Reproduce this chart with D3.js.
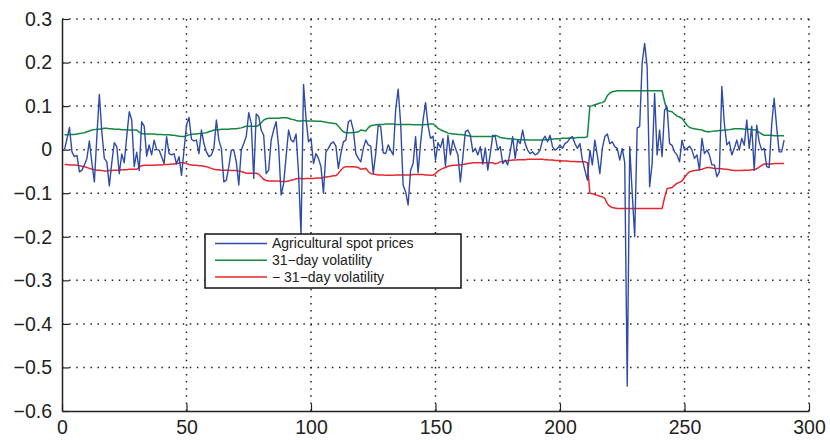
<!DOCTYPE html>
<html>
<head>
<meta charset="utf-8">
<script src="https://cdn.jsdelivr.net/npm/d3@7"></script>
<style>
  body { margin: 0; background: #fff; }
  text { font-family: "Liberation Sans", Arial, Helvetica, sans-serif; fill: #222; }
</style>
</head>
<body>
<div class="chart"></div>
<script>
// Daily returns of agricultural spot prices, x = 1..290
var spotPrices = [
  0.000, 0.025, 0.051, -0.005, -0.016, -0.013, -0.051, -0.047, -0.035, -0.020,
  0.020, -0.030, -0.074, 0.030, 0.127, 0.040, -0.020, -0.028, -0.083, -0.030,
  0.016, 0.007, -0.055, -0.010, -0.030, 0.030, 0.087, 0.068, -0.039, -0.006,
  -0.048, 0.064, 0.054, -0.015, 0.011, -0.012, 0.022, 0.000, -0.001, -0.016,
  -0.032, 0.030, -0.009, -0.012, -0.009, -0.033, -0.016, -0.059, -0.001, 0.056,
  0.074, 0.024, 0.020, 0.022, -0.009, 0.045, 0.014, -0.005, -0.016, -0.012,
  0.003, 0.068, 0.022, 0.003, -0.074, -0.070, -0.039, -0.001, -0.001, -0.028,
  -0.081, -0.001, 0.014, 0.030, 0.085, 0.060, -0.066, 0.082, 0.076, 0.045,
  0.033, -0.055, -0.047, 0.022, 0.045, 0.064, 0.007, -0.104, -0.078, -0.016,
  0.045, 0.022, 0.018, 0.036, -0.055, -0.195, 0.150, 0.072, 0.018, 0.026,
  -0.032, -0.009, -0.020, -0.039, -0.100, -0.005, 0.003, 0.014, 0.018, 0.008,
  -0.043, -0.009, 0.018, 0.022, 0.064, 0.068, 0.045, -0.009, -0.020, -0.028,
  0.003, 0.022, 0.011, 0.008, -0.055, -0.009, 0.056, 0.053, -0.007, -0.009,
  0.011, -0.001, -0.012, 0.091, 0.139, 0.060, -0.081, -0.097, -0.127, -0.047,
  -0.032, 0.030, -0.053, 0.014, 0.068, 0.108, 0.056, 0.026, 0.031, -0.024,
  0.016, 0.005, 0.026, -0.038, 0.033, -0.012, 0.022, 0.003, -0.012, -0.074,
  -0.016, 0.041, 0.045, 0.033, -0.005, 0.003, -0.012, 0.007, -0.033, 0.004,
  -0.047, -0.009, 0.033, 0.030, -0.001, 0.007, -0.032, -0.024, -0.035, -0.005,
  0.030, -0.020, 0.022, 0.014, 0.045, 0.014, -0.001, -0.009, -0.005, -0.012,
  -0.009, -0.001, 0.022, 0.031, 0.018, 0.033, 0.007, -0.001, 0.003, 0.011,
  0.003, 0.014, 0.018, 0.026, 0.030, 0.014, 0.003, 0.014, -0.024, -0.047,
  -0.070, -0.001, -0.035, 0.022, -0.013, -0.055, 0.003, 0.030, 0.036, 0.014,
  0.018, 0.007, 0.003, -0.024, 0.003, -0.030, -0.543, 0.007, -0.100, -0.200,
  0.050, 0.053, 0.200, 0.244, 0.190, -0.085, -0.032, 0.129, -0.012, 0.045,
  -0.016, 0.091, 0.098, 0.014, 0.010, -0.005, -0.012, -0.028, 0.022, -0.001,
  0.003, 0.008, -0.001, -0.020, -0.012, -0.047, 0.026, -0.009, -0.001, -0.012,
  -0.035, -0.035, -0.062, -0.051, 0.145, 0.060, 0.011, 0.018, -0.012, 0.003,
  0.022, -0.001, 0.026, 0.010, 0.068, 0.003, 0.054, -0.047, 0.056, 0.018,
  -0.001, 0.003, -0.039, -0.041, 0.056, 0.118, 0.053, -0.005, -0.005, 0.022
];

// 31-day rolling volatility, same x positions
var volatility = [
  0.034, 0.034, 0.035, 0.035, 0.035, 0.036, 0.037, 0.038, 0.039,
  0.041, 0.043, 0.045, 0.046, 0.047,
  0.047, 0.048, 0.049, 0.049, 0.048, 0.048, 0.047, 0.047,
  0.047, 0.046, 0.046, 0.046, 0.045, 0.045, 0.045, 0.045,
  0.040, 0.037, 0.036,
  0.036, 0.036, 0.036, 0.036, 0.035, 0.035, 0.035, 0.034, 0.034,
  0.034, 0.033, 0.033, 0.032, 0.031, 0.030, 0.030, 0.032,
  0.034, 0.035, 0.036, 0.036, 0.037, 0.037,
  0.038, 0.039, 0.041, 0.043, 0.045, 0.046,
  0.046, 0.047, 0.047, 0.047, 0.047, 0.048, 0.048, 0.048, 0.049,
  0.050, 0.052, 0.054, 0.054, 0.054, 0.054, 0.054, 0.056,
  0.062, 0.068, 0.071, 0.072,
  0.072, 0.072, 0.072, 0.072, 0.073, 0.073, 0.073, 0.072, 0.070, 0.069, 0.067,
  0.066, 0.066, 0.067, 0.066, 0.066, 0.066, 0.066, 0.065, 0.065, 0.065, 0.064, 0.063, 0.062, 0.061, 0.060, 0.060,
  0.054, 0.047, 0.041,
  0.039, 0.039, 0.039, 0.039, 0.040, 0.041,
  0.045, 0.044, 0.043, 0.050,
  0.055, 0.056, 0.057, 0.058, 0.058, 0.058, 0.059, 0.059,
  0.059, 0.059, 0.058, 0.058, 0.058, 0.058, 0.058, 0.058, 0.058, 0.057, 0.057, 0.057, 0.057, 0.057, 0.058, 0.058, 0.059, 0.059,
  0.055, 0.049, 0.046, 0.043, 0.041, 0.038, 0.037,
  0.036, 0.036, 0.035, 0.035, 0.034, 0.033, 0.032, 0.031, 0.030,
  0.030, 0.030, 0.030, 0.030, 0.030, 0.030, 0.030, 0.030, 0.033, 0.031, 0.028,
  0.027, 0.026, 0.025, 0.025, 0.024, 0.024, 0.023, 0.023, 0.023, 0.023, 0.022, 0.022, 0.022, 0.022, 0.022,
  0.022, 0.022, 0.023, 0.023, 0.024, 0.024, 0.025, 0.025, 0.025, 0.026, 0.026, 0.026, 0.027, 0.027, 0.027, 0.028, 0.028, 0.028, 0.028, 0.030,
  0.100, 0.101, 0.103, 0.105, 0.107, 0.108, 0.112,
  0.124, 0.130, 0.133, 0.134, 0.135,
  0.135, 0.135, 0.135, 0.135, 0.135, 0.135, 0.135, 0.135, 0.135, 0.135, 0.135, 0.135, 0.135, 0.135, 0.135, 0.135, 0.135, 0.135,
  0.110, 0.090, 0.088, 0.087,
  0.082, 0.077, 0.075, 0.072, 0.064, 0.056,
  0.051, 0.049, 0.048, 0.047, 0.046, 0.045, 0.043,
  0.041, 0.041, 0.042, 0.043, 0.043, 0.044, 0.044, 0.045,
  0.045, 0.046, 0.047, 0.048, 0.048, 0.048, 0.048, 0.047, 0.047, 0.047, 0.046, 0.046, 0.044,
  0.040, 0.036, 0.033, 0.033, 0.033, 0.033, 0.032, 0.032, 0.032, 0.032, 0.032
];

var xTicks = [0, 50, 100, 150, 200, 250, 300];
var yTicks = [-0.6, -0.5, -0.4, -0.3, -0.2, -0.1, 0, 0.1, 0.2, 0.3];
var legendLabels = ["Agricultural spot prices", "31\u2212day volatility", "\u2212 31\u2212day volatility"];

var svgWidth = 830;
var svgHeight = 442;
var margin = { top: 19, right: 21, bottom: 31, left: 62 };
var width = svgWidth - margin.left - margin.right;
var height = svgHeight - margin.top - margin.bottom;

var svg = d3.select(".chart")
  .append("svg")
  .attr("width", svgWidth)
  .attr("height", svgHeight);

var chartGroup = svg.append("g")
  .attr("transform", `translate(${margin.left}, ${margin.top})`);

var xScale = d3.scaleLinear().domain([0, 300]).range([0, width]);
var yScale = d3.scaleLinear().domain([-0.6, 0.3]).range([height, 0]);

var fmt = function(d) { return d === 0 ? "0" : d3.format(".1f")(d).replace("-", "\u2212"); };

// dotted grid
chartGroup.append("g")
  .selectAll("line")
  .data(xTicks.slice(1))
  .enter()
  .append("line")
  .attr("x1", d => xScale(d)).attr("x2", d => xScale(d))
  .attr("y1", 0).attr("y2", height)
  .attr("stroke", "#222")
  .attr("stroke-width", 1.5)
  .attr("stroke-dasharray", "1.5 5.6");

chartGroup.append("g")
  .selectAll("line")
  .data(yTicks.slice(1))
  .enter()
  .append("line")
  .attr("x1", 0).attr("x2", width)
  .attr("y1", d => yScale(d)).attr("y2", d => yScale(d))
  .attr("stroke", "#222")
  .attr("stroke-width", 1.5)
  .attr("stroke-dasharray", "1.5 5.6");

// axes, ticks pointing inward
var bottomAxis = d3.axisBottom(xScale).tickValues(xTicks).tickSizeInner(-7).tickSizeOuter(0).tickPadding(9);
var leftAxis = d3.axisLeft(yScale).tickValues(yTicks).tickSizeInner(-7).tickSizeOuter(0).tickPadding(10).tickFormat(fmt);

var gx = chartGroup.append("g")
  .attr("transform", `translate(0, ${height})`)
  .call(bottomAxis);
var gy = chartGroup.append("g")
  .call(leftAxis);

[gx, gy].forEach(function(g) {
  g.select(".domain").attr("stroke", "#222").attr("stroke-width", 1.5);
  g.selectAll(".tick line").attr("stroke", "#222").attr("stroke-width", 1.2);
  g.selectAll(".tick text").attr("font-size", 19.5).attr("fill", "#222")
    .style("font-family", "'Liberation Sans', Arial, Helvetica, sans-serif");
});

// series
var line = d3.line()
  .x((d, i) => xScale(i + 1))
  .y(d => yScale(d));

chartGroup.append("path")
  .datum(volatility.map(v => -v))
  .attr("fill", "none")
  .attr("stroke", "#e8262b")
  .attr("stroke-width", 1.5)
  .attr("d", line);

chartGroup.append("path")
  .datum(volatility)
  .attr("fill", "none")
  .attr("stroke", "#13893f")
  .attr("stroke-width", 1.5)
  .attr("d", line);

chartGroup.append("path")
  .datum(spotPrices)
  .attr("fill", "none")
  .attr("stroke", "#2f4ba8")
  .attr("stroke-width", 1.4)
  .attr("stroke-linejoin", "round")
  .attr("d", line);

// legend
var legendColors = ["#2f4ba8", "#13893f", "#e8262b"];
var legend = svg.append("g")
  .attr("transform", "translate(205, 234)");

legend.append("rect")
  .attr("width", 256)
  .attr("height", 54)
  .attr("fill", "#fff")
  .attr("stroke", "#111")
  .attr("stroke-width", 1.5);

var rows = legend.selectAll("g.row")
  .data(legendLabels)
  .enter()
  .append("g")
  .attr("class", "row")
  .attr("transform", (d, i) => `translate(0, ${9.5 + i * 16.7})`);

rows.append("line")
  .attr("x1", 10).attr("x2", 62)
  .attr("stroke", (d, i) => legendColors[i])
  .attr("stroke-width", 1.5);

rows.append("text")
  .attr("x", 67)
  .attr("dy", "0.35em")
  .attr("font-size", 14)
  .text(d => d);
</script>
</body>
</html>
